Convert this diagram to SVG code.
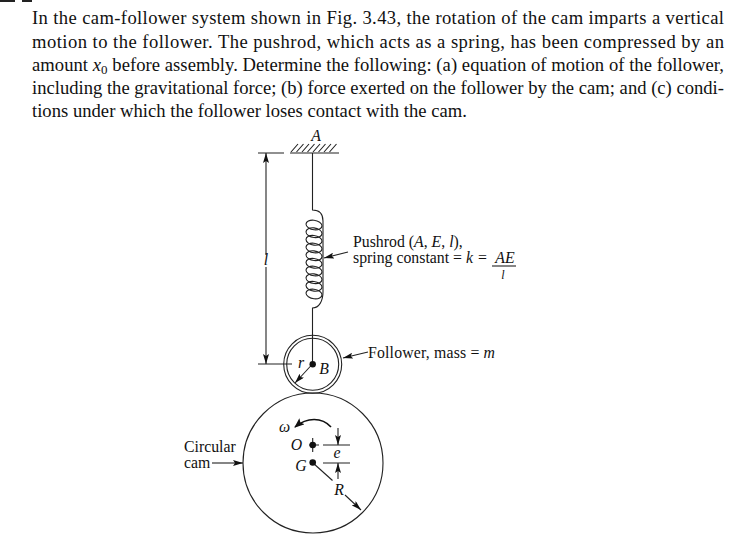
<svg xmlns="http://www.w3.org/2000/svg" width="754" height="554" viewBox="0 0 754 554">
<defs>
<marker id="ah" viewBox="0 0 10 6" refX="10" refY="3" markerWidth="10" markerHeight="6" markerUnits="userSpaceOnUse" orient="auto"><path d="M0 0L10 3L0 6L2 3Z" fill="#111"/></marker>
<marker id="ah2" viewBox="0 0 10 8" refX="9" refY="4" markerWidth="10" markerHeight="8" markerUnits="userSpaceOnUse" orient="auto"><path d="M0 0L10 4L0 8L2 4Z" fill="#111"/></marker>
</defs>
<style>
text{font-family:"Liberation Serif","Times New Roman",serif;fill:#111}
.b{font-size:18.6px}
.s{font-size:15.8px}
.f{font-size:12px}
.i{font-style:italic}
.l{fill:none;stroke:#222;stroke-width:1.1}
.a{fill:none;stroke:#222;stroke-width:1.1;marker-end:url(#ah)}
.d{fill:#111}
</style>
<rect width="754" height="554" fill="#fff"/>
<rect x="0" y="0" width="15" height="2" fill="#222"/><rect x="22" y="0" width="10" height="2" fill="#222"/>
<g id="problem-text">
<text class="b" x="32" y="24" textLength="692" lengthAdjust="spacing">In the cam-follower system shown in Fig. 3.43, the rotation of the cam imparts a vertical</text>
<text class="b" x="32" y="47.5" textLength="692" lengthAdjust="spacing">motion to the follower. The pushrod, which acts as a spring, has been compressed by an</text>
<text class="b" x="32" y="71" textLength="692" lengthAdjust="spacing">amount <tspan class="i">x</tspan><tspan font-size="13" dy="3">0</tspan><tspan dy="-3"> before assembly. Determine the following: (a) equation of motion of the follower,</tspan></text>
<text class="b" x="32" y="94" textLength="692" lengthAdjust="spacing">including the gravitational force; (b) force exerted on the follower by the cam; and (c) condi-</text>
<text class="b" x="32" y="117" textLength="435" lengthAdjust="spacing">tions under which the follower loses contact with the cam.</text>
</g>
<g id="connectors">
<path class="l" d="M258 153H284M258 364H292"/>
<path class="a" d="M266 255V153"/>
<path class="a" d="M266 267V364"/>
<path class="a" d="M348 252L324 258"/>
<path class="a" d="M368 352L343 358"/>
<path class="a" d="M212 463H243"/>
<path fill="none" stroke="#111" stroke-width="1.6" marker-end="url(#ah2)" d="M331 427C322 417 307 417 295 427"/>
<path class="l" d="M323 445H350M323 463H350"/>
<path class="a" d="M338 428V445"/>
<path class="a" d="M338 479V463"/>
<path class="l" d="M313 463L332.500 480.500"/>
<path class="a" d="M345 495L361 510"/>
<path class="a" d="M312.500 364L295 383"/>
</g>
<g id="support-A">
<path class="l" d="M290 153H339"/>
<path class="l" d="M291 152L298 144M296.500 152L303.500 144M302 152L309 144M307.500 152L314.500 144M313 152L320 144M318.500 152L325.500 144M324 152L331 144M329.500 152L336.500 144"/>
<text class="s i" x="316" y="141" text-anchor="middle">A</text>
</g>
<g id="pushrod">
<path class="l" d="M312.500 153V210C319 210 323 213 323 221V292C323 301 319 308 312.500 308V364"/>
<g class="l" transform="translate(314 0) skewY(6) translate(-314 0)">
<ellipse cx="314" cy="225" rx="8" ry="4.800"/>
<ellipse cx="314" cy="232.700" rx="8" ry="4.800"/>
<ellipse cx="314" cy="240.300" rx="8" ry="4.800"/>
<ellipse cx="314" cy="248" rx="8" ry="4.800"/>
<ellipse cx="314" cy="255.700" rx="8" ry="4.800"/>
<ellipse cx="314" cy="263.300" rx="8" ry="4.800"/>
<ellipse cx="314" cy="271" rx="8" ry="4.800"/>
<ellipse cx="314" cy="278.700" rx="8" ry="4.800"/>
<ellipse cx="314" cy="286.300" rx="8" ry="4.800"/>
<ellipse cx="314" cy="294" rx="8" ry="4.800"/>
</g>
<text class="s i" x="266" y="265" text-anchor="middle">l</text>
<text class="s" x="353" y="247">Pushrod (<tspan class="i">A</tspan>, <tspan class="i">E</tspan>, <tspan class="i">l</tspan>),</text>
<text class="s" x="353" y="263">spring constant =</text>
<text class="s i" x="466" y="263">k</text>
<text class="s" x="478" y="263">=</text>
<text class="s i" x="505" y="263" text-anchor="middle">AE</text>
<path class="l" d="M492 266H516"/>
<text class="f i" x="503" y="279" text-anchor="middle">l</text>
</g>
<g id="follower">
<circle class="l" cx="312.700" cy="364.300" r="29"/>
<circle class="l" cx="312.700" cy="364.300" r="26"/>
<circle class="d" cx="312.700" cy="364.300" r="3.200"/>
<text class="s i" x="301" y="368" text-anchor="middle">r</text>
<text class="s i" x="324" y="373.500" text-anchor="middle">B</text>
<text class="s" x="368" y="358" textLength="127" lengthAdjust="spacing">Follower, mass = <tspan class="i">m</tspan></text>
</g>
<g id="cam">
<circle class="l" cx="313" cy="463" r="70"/>
<path class="l" d="M309 445H319M312.700 438V452"/>
<circle class="d" cx="312.700" cy="445" r="3.300"/>
<circle class="d" cx="312.700" cy="462.500" r="3.300"/>
<text class="s i" x="284.500" y="431.500" text-anchor="middle">ω</text>
<text class="s i" x="296.500" y="450" text-anchor="middle">O</text>
<text class="s i" x="301" y="471" text-anchor="middle">G</text>
<text class="s i" x="337" y="458" text-anchor="middle">e</text>
<text class="s i" x="339" y="494.500" text-anchor="middle">R</text>
<text class="s" x="184" y="451.500">Circular</text>
<text class="s" x="184" y="467.500">cam</text>
</g>
</svg>
